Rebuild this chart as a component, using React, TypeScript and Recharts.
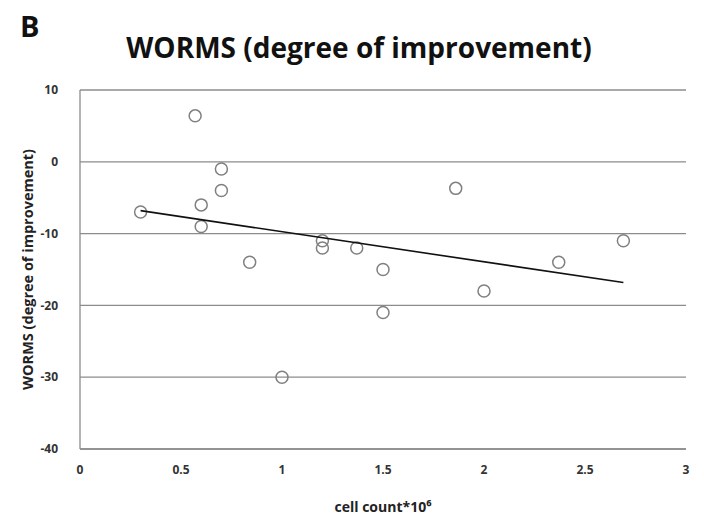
import React from 'react';
import { Scatter, ScatterChart, XAxis, YAxis, CartesianGrid, Label } from 'recharts';

// cell count (x10^6) vs WORMS degree of improvement
const cellCount = [0.57, 0.7, 0.7, 0.6, 0.6, 0.3, 0.84, 1.2, 1.2, 1.37, 1.86, 2.69, 2.37, 1.5, 2.0, 1.5, 1.0];
const wormsChange = [6.4, -1, -4, -6, -9, -7, -14, -11, -12, -12, -3.7, -11, -14, -15, -18, -21, -30];
const xTicks = [0, 0.5, 1, 1.5, 2, 2.5, 3];
const yTicks = [10, 0, -10, -20, -30, -40];

const points = cellCount.map((x, i) => ({ x, y: wormsChange[i] }));

// least squares trend line across the data range
function trend() {
  const n = points.length;
  const mx = points.reduce((s, p) => s + p.x, 0) / n;
  const my = points.reduce((s, p) => s + p.y, 0) / n;
  let sxy = 0;
  let sxx = 0;
  points.forEach((p) => {
    sxy += (p.x - mx) * (p.y - my);
    sxx += (p.x - mx) * (p.x - mx);
  });
  const slope = sxy / sxx;
  const b = my - slope * mx;
  const x0 = Math.min(...cellCount);
  const x1 = Math.max(...cellCount);
  return [
    { x: x0, y: b + slope * x0 },
    { x: x1, y: b + slope * x1 },
  ];
}

const FONT = 'Open Sans, sans-serif';
const GRID = '#8c8c8c';

const Ring = (props: any) => {
  const { cx, cy } = props;
  return <circle cx={cx} cy={cy} r={6} fill="none" stroke="#808080" strokeWidth={1.5} />;
};

export default function App() {
  if (typeof document !== 'undefined') document.body.style.margin = '0';
  return (
    <div style={{ position: 'relative', width: 704, height: 521, background: '#fff', fontFamily: FONT }}>
      <div style={{ position: 'absolute', left: 20, top: 6, fontSize: 29, fontWeight: 700, color: '#111' }}>B</div>
      <div
        style={{
          position: 'absolute',
          left: 0,
          width: 718,
          top: 28,
          textAlign: 'center',
          fontSize: 28,
          fontWeight: 700,
          color: '#111',
        }}
      >
        WORMS (degree of improvement)
      </div>
      <ScatterChart width={704} height={521} margin={{ top: 90, right: 18, bottom: 42, left: 20 }}>
        <CartesianGrid vertical={false} stroke={GRID} strokeWidth={1.3} />
        <XAxis
          type="number"
          dataKey="x"
          domain={[0, 3]}
          ticks={xTicks}
          tickLine={false}
          axisLine={{ stroke: GRID, strokeWidth: 1.3 }}
          tickMargin={10}
          height={30}
          tick={{ fontSize: 12, fontWeight: 700, fill: '#333', fontFamily: FONT }}
        >
          <Label
            value="cell count*10⁶"
            position="bottom"
            offset={23}
            style={{ fontSize: 14, fontWeight: 700, fill: '#222', fontFamily: FONT }}
          />
        </XAxis>
        <YAxis
          type="number"
          dataKey="y"
          domain={[-40, 10]}
          ticks={yTicks}
          tickLine={false}
          axisLine={{ stroke: GRID, strokeWidth: 1.3 }}
          tickMargin={16}
          width={60}
          tick={{ fontSize: 12, fontWeight: 700, fill: '#333', fontFamily: FONT }}
        >
          <Label
            value="WORMS (degree of improvement)"
            angle={-90}
            position="insideLeft"
            offset={8}
            style={{ textAnchor: 'middle', fontSize: 14.5, fontWeight: 700, fill: '#222', fontFamily: FONT }}
          />
        </YAxis>
        <Scatter data={points} shape={<Ring />} isAnimationActive={false} />
        <Scatter
          data={trend()}
          line={{ stroke: '#111', strokeWidth: 1.6 }}
          shape={() => <g />}
          isAnimationActive={false}
        />
      </ScatterChart>
    </div>
  );
}
